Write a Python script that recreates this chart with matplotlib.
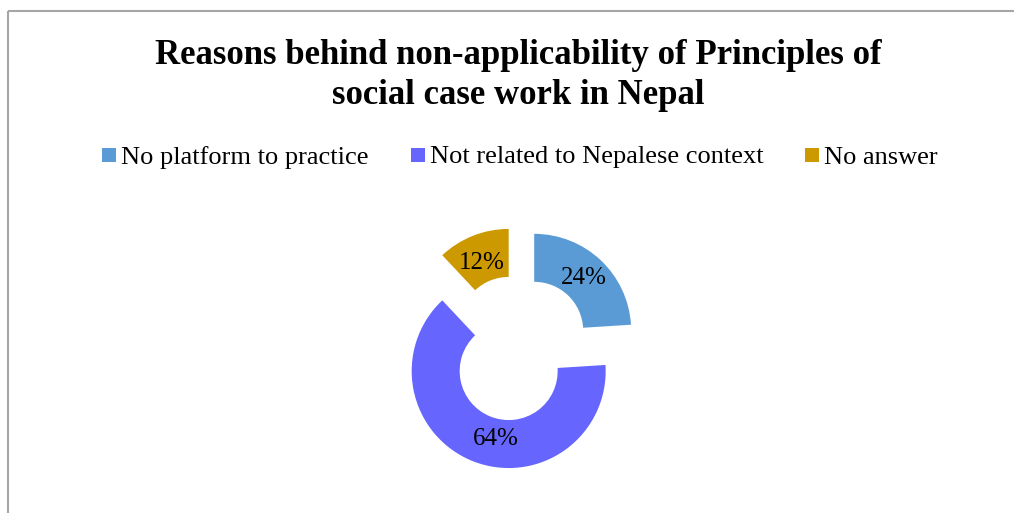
import matplotlib.pyplot as plt
from matplotlib.patches import Rectangle

plt.rcParams['font.family'] = ['Liberation Serif', 'DejaVu Serif']

categories = ["No platform to practice", "Not related to Nepalese context", "No answer"]
shares = [24, 64, 12]
colors = ["#5B9BD5", "#6666FF", "#CC9900"]

W, H = 1014, 513
fig = plt.figure(figsize=(W / 100, H / 100), dpi=100)
fig.set_facecolor('white')
ax = fig.add_axes([0, 0, 1, 1])

# exploded doughnut, pixel units (y up); explode is absolute in matplotlib
R = 97
wedges, texts, autotexts = ax.pie(
    shares, colors=colors, startangle=90, counterclock=False,
    radius=R, center=(517.6, H - 348.5),
    explode=[0.25 * R] * len(shares),
    wedgeprops=dict(width=48, linewidth=0),
    autopct=lambda p: f"{p:.0f}%", pctdistance=0.75,
    textprops=dict(fontsize=18, color='black'))

# nudge the big and small slice labels a little
px, py = autotexts[1].get_position()
autotexts[1].set_position((px + 14, py))
px, py = autotexts[2].get_position()
autotexts[2].set_position((px, py - 5))

ax.set_xlim(0, W)
ax.set_ylim(0, H)
ax.set_aspect('equal')
ax.axis('off')

# chart border (only top and left edges fall inside the image)
ax.plot([8, W], [H - 11, H - 11], color='#A6A6A6', lw=1.5, solid_capstyle='butt')
ax.plot([8, 8], [H - 11, 0], color='#A6A6A6', lw=1.5, solid_capstyle='butt')

ax.text(518.5, H - 55, "Reasons behind non-applicability of Principles of",
        ha='center', va='center', fontsize=25, fontweight='bold')
ax.text(518.5, H - 96, "social case work in Nepal",
        ha='center', va='center', fontsize=25, fontweight='bold')

# legend row
fig.canvas.draw()
renderer = fig.canvas.get_renderer()
x = 102
ly = H - 155
for label, c in zip(categories, colors):
    ax.add_patch(Rectangle((x, ly - 7), 14, 14, color=c, lw=0))
    t = ax.text(x + 19, ly, label, ha='left', va='center_baseline', fontsize=19)
    bb = t.get_window_extent(renderer)
    x = bb.x1 + 42

fig.savefig("out.png", dpi=100, facecolor='white')
